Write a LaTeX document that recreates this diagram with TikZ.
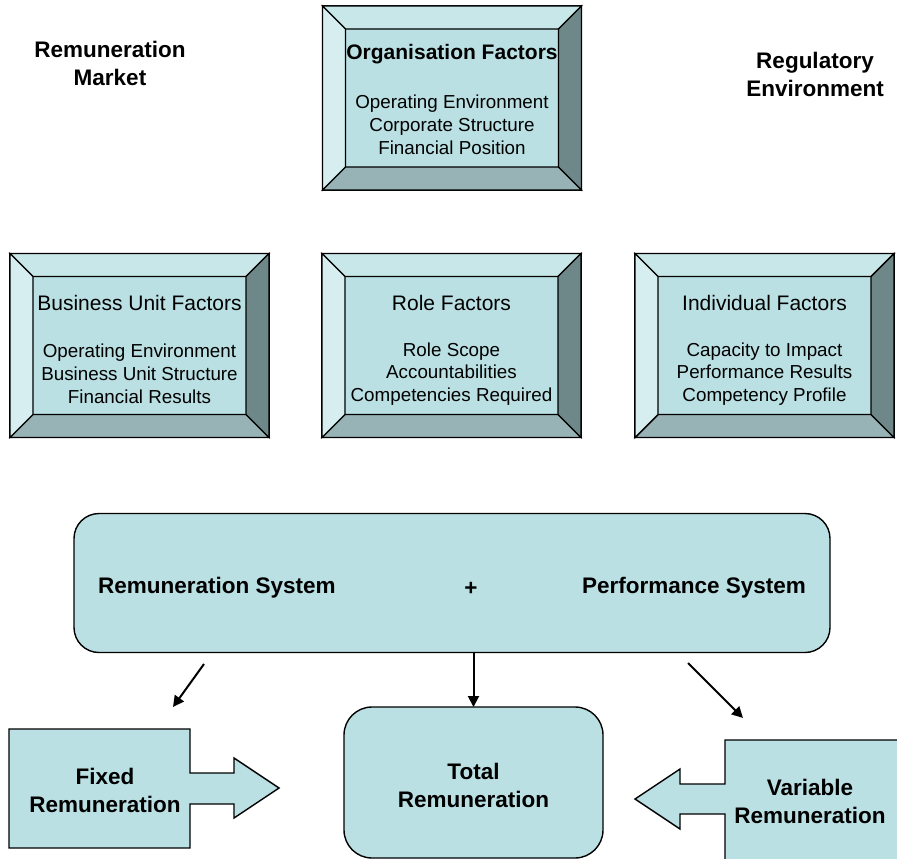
\documentclass[tikz,border=0pt]{standalone}
\usepackage{fontspec}
\setmainfont{Liberation Sans}
\usetikzlibrary{calc,arrows.meta}

\definecolor{panel}{RGB}{186,224,227}
\definecolor{bevtop}{RGB}{200,231,233}
\definecolor{bevleft}{RGB}{214,238,240}
\definecolor{bevright}{RGB}{110,136,138}
\definecolor{bevbot}{RGB}{152,179,181}

\newcommand\bodyfont{\fontsize{18.8}{22.8}\selectfont}
\newcommand\titlefont{\fontsize{21}{25}\selectfont}
\newcommand\boldfont{\fontsize{22.5}{28}\selectfont\bfseries}
\newcommand\bw{23}

% bevelled frame drawn around a named rectangular node
\newcommand\bevelframe[1]{%
  \draw[outline, fill=bevtop] (#1.north west) -- (#1.north east)
    -- ($(#1.north east)+(-\bw,\bw)$) -- ($(#1.north west)+(\bw,\bw)$) -- cycle;
  \draw[outline, fill=bevbot] (#1.south west) -- (#1.south east)
    -- ($(#1.south east)+(-\bw,-\bw)$) -- ($(#1.south west)+(\bw,-\bw)$) -- cycle;
  \draw[outline, fill=bevleft] (#1.north west) -- ($(#1.north west)+(\bw,\bw)$)
    -- ($(#1.south west)+(\bw,-\bw)$) -- (#1.south west) -- cycle;
  \draw[outline, fill=bevright] (#1.north east) -- ($(#1.north east)+(-\bw,\bw)$)
    -- ($(#1.south east)+(-\bw,-\bw)$) -- (#1.south east) -- cycle;
}

\tikzset{
  outline/.style={draw=black, line width=1.4pt, line join=miter},
  framebox/.style={outline, fill=panel, minimum width=259pt, minimum height=184pt,
    inner sep=0pt, outer sep=0pt},
  roundbox/.style={outline, fill=panel, inner sep=0pt, outer sep=0pt},
  txt/.style={align=center, inner sep=0pt, text=black},
  link/.style={draw=black, line width=2pt, -{Triangle[length=11pt,width=11pt]}},
}

\begin{document}
\begin{tikzpicture}[x=1pt, y=-1pt]
\useasboundingbox (0,0) rectangle (897,859);
\clip (0,0) rectangle (897,859);

% corner labels
\node[txt, font=\boldfont] (market) at (110,63) {Remuneration\\Market};
\node[txt, font=\boldfont] (regul) at (815,74) {Regulatory\\Environment};

% bevelled factor panels
\node[framebox] (org) at (452,98) {};
\bevelframe{org}
\node[txt, font=\titlefont\bfseries] (orgT) at (452,54.5) {Organisation Factors};
\node[txt, font=\bodyfont] (orgB) at (452,124.5) {Operating Environment\\Corporate Structure\\Financial Position};

\node[framebox] (bu) at (139.5,345.5) {};
\bevelframe{bu}
\node[txt, font=\titlefont] (buT) at (139.5,302.5) {Business Unit Factors};
\node[txt, font=\bodyfont] (buB) at (139.5,374) {Operating Environment\\Business Unit Structure\\Financial Results};

\node[framebox] (role) at (451.5,345.5) {};
\bevelframe{role}
\node[txt, font=\titlefont] (roleT) at (451.5,302.5) {Role Factors};
\node[txt, font=\bodyfont] (roleB) at (451.5,374) {Role Scope\\Accountabilities\\Competencies Required};

\node[framebox] (ind) at (764.5,345.5) {};
\bevelframe{ind}
\node[txt, font=\titlefont] (indT) at (764.5,302.5) {Individual Factors};
\node[txt, font=\bodyfont] (indB) at (764.5,374) {Capacity to Impact\\Performance Results\\Competency Profile};

% systems bar
\node[roundbox, rounded corners=25pt, minimum width=756pt, minimum height=139pt] (sys) at (452,583) {};
\node[txt, font=\boldfont] (remsys) at (217,587.5) {Remuneration System};
\node[txt, font=\boldfont] (plus) at (471,589) {+};
\node[txt, font=\boldfont] (perfsys) at (694,587.5) {Performance System};

% total remuneration
\node[roundbox, rounded corners=28pt, minimum width=259pt, minimum height=151pt] (tot) at (473.5,782.5) {};
\node[txt, font=\boldfont] (totT) at (473.5,785) {Total\\Remuneration};

% fixed remuneration block arrow
\draw[outline, fill=panel] (9,729) -- (190,729) -- (190,773) -- (234,773) -- (234,758)
  -- (279,788) -- (234,818) -- (234,804) -- (190,804) -- (190,848) -- (9,848) -- cycle;
\node[txt, font=\boldfont] (fixT) at (105,790) {Fixed\\Remuneration};

% variable remuneration block arrow
\draw[outline, fill=panel] (725,740) -- (905,740) -- (905,870) -- (725,870) -- (725,814)
  -- (680,814) -- (680,829) -- (635,799) -- (680,769) -- (680,784) -- (725,784) -- cycle;
\node[txt, font=\boldfont] (varT) at (810,801) {Variable\\Remuneration};

% connectors
\coordinate (fixA) at (204,664);
\coordinate (fixB) at (173,707);
\coordinate (varA) at (688,663);
\coordinate (varB) at (743,718);
\draw[link] (fixA) -- (fixB);
\draw[link] (varA) -- (varB);
\draw[link] (tot.north |- sys.south) -- (tot.north);
\end{tikzpicture}
\end{document}
